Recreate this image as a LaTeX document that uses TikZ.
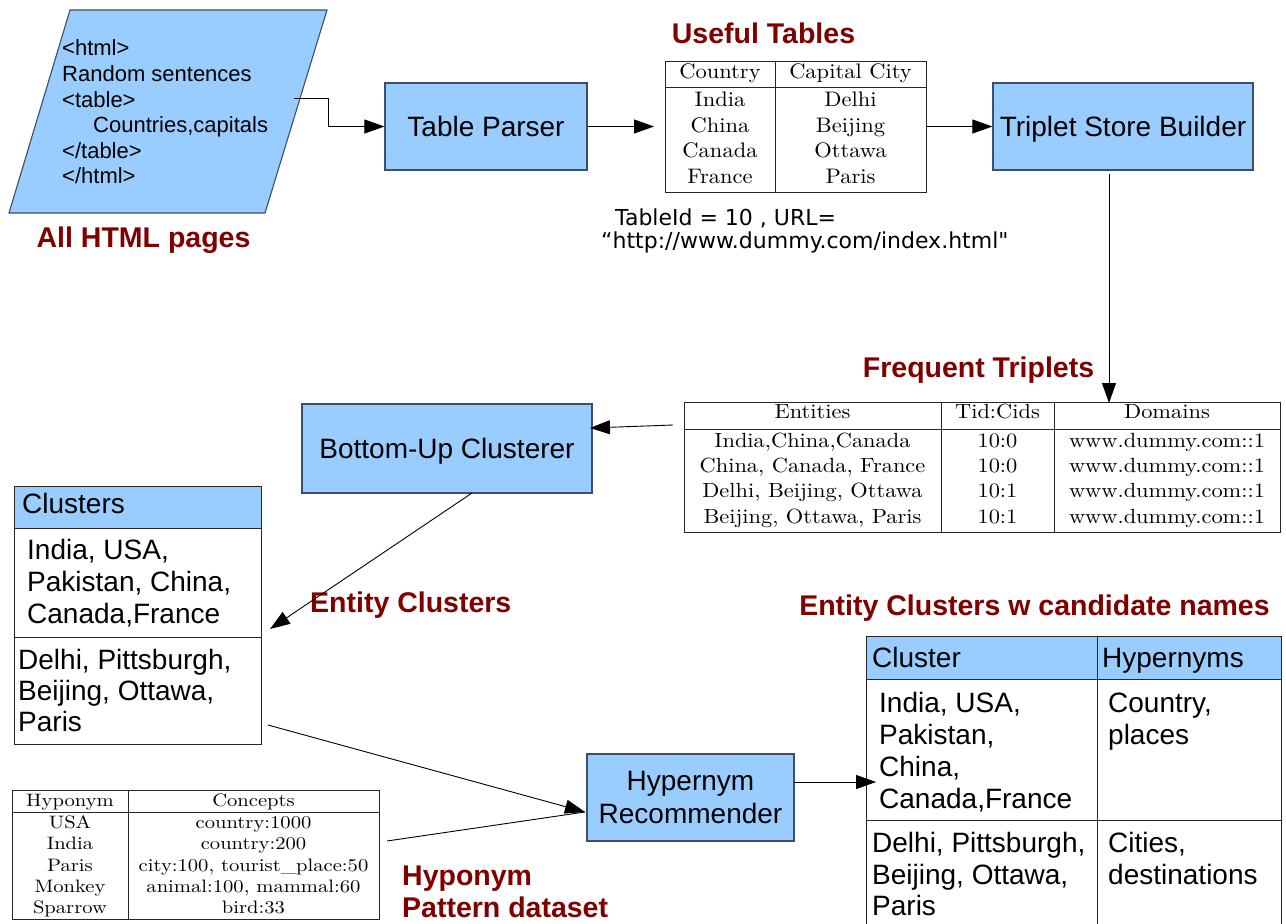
\documentclass[tikz,border=0pt]{standalone}
\usepackage{fontspec}
\usepackage{graphicx}
\usetikzlibrary{arrows.meta}
\newfontfamily\lib{Liberation Sans}
\newfontfamily\dvs{DejaVu Sans}
\definecolor{boxblue}{RGB}{153,204,255}
\definecolor{boxline}{RGB}{60,78,105}
\definecolor{lblred}{RGB}{128,0,0}
\newcommand\sxA[1]{\scalebox{2.25}[2.1]{#1}}
\newcommand\sxB[1]{\scalebox{2.24}[2.05]{#1}}
\newcommand\sxC[1]{\scalebox{2.06}[1.8]{#1}}
\tikzset{
  proc/.style={draw=boxline, line width=1.1pt, fill=boxblue, inner sep=0pt, align=center,
    font=\lib\fontsize{28}{33}\selectfont},
  oneline/.style={text height=20pt, text depth=0pt},
  lbl/.style={text=lblred, inner sep=0pt, anchor=base, font=\lib\bfseries\fontsize{28.5}{33}\selectfont},
  lblw/.style={lbl, anchor=base west},
  stxt/.style={inner sep=0pt, anchor=base west, font=\lib\fontsize{28}{33}\selectfont},
  htxt/.style={inner sep=0pt, anchor=base west, font=\lib\fontsize{22}{26}\selectfont},
  tbl/.style={draw=black!85, line width=1pt},
  tblbox/.style={tbl, inner sep=0pt},
  ta/.style={inner sep=0pt, anchor=base, font=\fontsize{10}{12}\selectfont},
  tb/.style={inner sep=0pt, anchor=base, font=\fontsize{10}{12}\selectfont},
  tc/.style={inner sep=0pt, anchor=base, font=\fontsize{10}{12}\selectfont},
  conn/.style={line width=0.9pt, draw=black},
  arr/.style={conn, -{Triangle[length=20pt,width=14pt]}},
}
\begin{document}
\begin{tikzpicture}[x=1pt,y=-1pt]
\clip (0,0) rectangle (1286,924);
\fill[white] (0,0) rectangle (1286,924);

% ---------- HTML pages parallelogram ----------
\filldraw[fill=boxblue, draw=boxline, line width=1.1pt] (70,10) -- (327,10) -- (265,213) -- (9,213) -- cycle;
\node[htxt] (h1) at (62,55) {<html>};
\node[htxt] (h2) at (62,81) {Random sentences};
\node[htxt] (h3) at (62,107) {<table>};
\node[htxt] (h4) at (93,132) {Countries,capitals};
\node[htxt] (h5) at (62,158) {</table>};
\node[htxt] (h6) at (62,183) {</html>};
\node[lbl] (lhtml) at (143.5,247) {All HTML pages};
\coordinate (pgout) at (294,98);

% ---------- Table Parser ----------
\node[proc, oneline, minimum width=202pt, minimum height=87pt] (parser) at (486,126.5) {Table Parser};

% ---------- Useful table ----------
\node[lbl] (luseful) at (763.5,43) {Useful Tables};
\node[tblbox, minimum width=261pt, minimum height=131pt] (useful) at (795.5,126.5) {};
\draw[tbl] (665,87) -- (926,87);
\draw[tbl] (775,61) -- (775,192);
\node[ta] (u11) at (720,78) {\sxA{Country}};
\node[ta] (u12) at (850.5,78) {\sxA{Capital City}};
\node[ta] (u21) at (720,106) {\sxA{India}};
\node[ta] (u22) at (850.5,106) {\sxA{Delhi}};
\node[ta] (u31) at (720,132) {\sxA{China}};
\node[ta] (u32) at (850.5,132) {\sxA{Beijing}};
\node[ta] (u41) at (720,157) {\sxA{Canada}};
\node[ta] (u42) at (850.5,157) {\sxA{Ottawa}};
\node[ta] (u51) at (720,183) {\sxA{France}};
\node[ta] (u52) at (850.5,183) {\sxA{Paris}};
\node[inner sep=0pt, anchor=base west, font=\dvs\fontsize{22}{26}\selectfont] (tid1) at (615,225) {TableId = 10 , URL=};
\node[inner sep=0pt, anchor=base west, font=\dvs\fontsize{22}{26}\selectfont] (tid2) at (601,248) {“http://www.dummy.com/index.html"};

% ---------- Triplet Store Builder ----------
\node[proc, oneline, minimum width=260pt, minimum height=87pt] (triplet) at (1123,126.5) {Triplet Store Builder};

% ---------- Frequent triplets table ----------
\node[lbl] (lfreq) at (978.5,377) {Frequent Triplets};
\node[tblbox, minimum width=596pt, minimum height=130pt] (freq) at (982,467) {};
\draw[tbl] (684,429) -- (1280,429);
\draw[tbl] (941,402) -- (941,532);
\draw[tbl] (1054,402) -- (1054,532);
\node[tb] (f01) at (812.5,418) {\sxB{Entities}};
\node[tb] (f02) at (997.5,418) {\sxB{Tid:Cids}};
\node[tb] (f03) at (1167,418) {\sxB{Domains}};
\node[tb] (f11) at (812.5,447) {\sxB{India,China,Canada}};
\node[tb] (f12) at (997.5,447) {\sxB{10:0}};
\node[tb] (f13) at (1167,447) {\sxB{www.dummy.com::1}};
\node[tb] (f21) at (812.5,472) {\sxB{China, Canada, France}};
\node[tb] (f22) at (997.5,472) {\sxB{10:0}};
\node[tb] (f23) at (1167,472) {\sxB{www.dummy.com::1}};
\node[tb] (f31) at (812.5,497) {\sxB{Delhi, Beijing, Ottawa}};
\node[tb] (f32) at (997.5,497) {\sxB{10:1}};
\node[tb] (f33) at (1167,497) {\sxB{www.dummy.com::1}};
\node[tb] (f41) at (812.5,523) {\sxB{Beijing, Ottawa, Paris}};
\node[tb] (f42) at (997.5,523) {\sxB{10:1}};
\node[tb] (f43) at (1167,523) {\sxB{www.dummy.com::1}};

% ---------- Bottom-Up Clusterer ----------
\node[proc, oneline, minimum width=290pt, minimum height=89pt] (bottomup) at (447,448.5) {Bottom-Up Clusterer};
\node[lblw] (lent) at (310,612) {Entity Clusters};

% ---------- Clusters table ----------
\fill[boxblue] (14,486) rectangle (261,528);
\node[tblbox, minimum width=247pt, minimum height=258pt] (clusters) at (137.5,615) {};
\draw[tbl] (14,528) -- (261,528);
\draw[tbl] (14,637) -- (261,637);
\node[stxt] (c0) at (22,513) {Clusters};
\node[stxt] (c11) at (27,559) {India, USA,};
\node[stxt] (c12) at (27,591) {Pakistan, China,};
\node[stxt] (c13) at (27,623) {Canada,France};
\node[stxt] (c21) at (18,669) {Delhi, Pittsburgh,};
\node[stxt] (c22) at (18,700) {Beijing, Ottawa,};
\node[stxt] (c23) at (18,731) {Paris};

% ---------- Hyponym table ----------
\node[tblbox, minimum width=367pt, minimum height=129pt] (hypo) at (195.5,854.5) {};
\draw[tbl] (12,812) -- (379,812);
\draw[tbl] (128,790) -- (128,919);
\node[tc] (y01) at (70,806) {\sxC{Hyponym}};
\node[tc] (y02) at (253.5,806) {\sxC{Concepts}};
\node[tc] (y11) at (70,828) {\sxC{USA}};
\node[tc] (y12) at (253.5,828) {\sxC{country:1000}};
\node[tc] (y21) at (70,849) {\sxC{India}};
\node[tc] (y22) at (253.5,849) {\sxC{country:200}};
\node[tc] (y31) at (70,871) {\sxC{Paris}};
\node[tc] (y32) at (253.5,871) {\sxC{city:100, tourist\_place:50}};
\node[tc] (y41) at (70,892) {\sxC{Monkey}};
\node[tc] (y42) at (253.5,892) {\sxC{animal:100, mammal:60}};
\node[tc] (y51) at (70,913) {\sxC{Sparrow}};
\node[tc] (y52) at (253.5,913) {\sxC{bird:33}};
\node[lblw] (lhyp1) at (402,885) {Hyponym};
\node[lblw] (lhyp2) at (402,917) {Pattern dataset};

% ---------- Hypernym Recommender ----------
\node[proc, minimum width=207pt, minimum height=87pt] (hyper) at (690.5,797.5) {Hypernym\\Recommender};

% ---------- Candidate names table ----------
\node[lbl] (lcand) at (1034.5,615) {Entity Clusters w candidate names};
\fill[boxblue] (866.7,636.7) rectangle (1281,679);
\node[tblbox, minimum width=414.3pt, minimum height=300pt] (cand) at (1073.85,786.7) {};
\draw[tbl] (866.7,679) -- (1281,679);
\draw[tbl] (866.7,820) -- (1281,820);
\draw[tbl] (1097,636.7) -- (1097,940);
\node[stxt] (k01) at (872,667) {Cluster};
\node[stxt] (k02) at (1102,667) {Hypernyms};
\node[stxt] (k11) at (879,712) {India, USA,};
\node[stxt] (k12) at (879,744) {Pakistan,};
\node[stxt] (k13) at (879,776) {China,};
\node[stxt] (k14) at (879,808) {Canada,France};
\node[stxt] (k15) at (1108,712) {Country,};
\node[stxt] (k16) at (1108,744) {places};
\node[stxt] (k21) at (872,852) {Delhi, Pittsburgh,};
\node[stxt] (k22) at (872,884) {Beijing, Ottawa,};
\node[stxt] (k23) at (872,915) {Paris};
\node[stxt] (k24) at (1108,852) {Cities,};
\node[stxt] (k25) at (1108,884) {destinations};

% ---------- connectors ----------
\coordinate (utin) at (654,126.5);
\coordinate (trout) at (1109,174);
\coordinate (ftin) at (1109,403);
\coordinate (ftout) at (673,425);
\coordinate (buin) at (590,428);
\coordinate (buout) at (472,493);
\coordinate (clin) at (270,629);
\coordinate (clout) at (268,725);
\coordinate (hpout) at (387,841);
\coordinate (hyin) at (585,812);
\coordinate (hrout) at (794,782);
\coordinate (cdin) at (876,782);

\draw[arr] (pgout) -- (328,98) -- (328,126.5) -- (parser.west);
\draw[arr] (parser.east) -- (utin);
\draw[arr] (useful.east) -- (triplet.west);
\draw[arr] (trout) -- (ftin);
\draw[arr] (ftout) -- (buin);
\draw[arr] (buout) -- (clin);
\draw[conn] (hpout) -- (hyin);
\draw[arr] (clout) -- (hyin);
\draw[arr] (hrout) -- (cdin);
\end{tikzpicture}
\end{document}
